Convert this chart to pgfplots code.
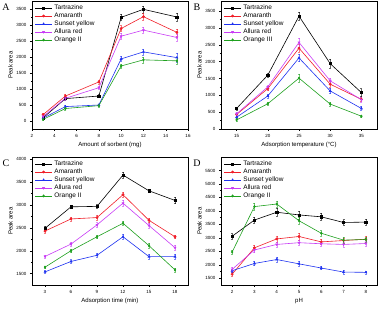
\documentclass[border=0pt]{standalone}
\usepackage{pgfplots}
\pgfplotsset{compat=1.18}
\usepackage{fontspec}
\setmainfont{Liberation Sans}
\newfontfamily\seriff{Liberation Serif}
\definecolor{cTz}{HTML}{000000}
\definecolor{cAm}{HTML}{F01E28}
\definecolor{cSy}{HTML}{1E32F0}
\definecolor{cAr}{HTML}{C83CF5}
\definecolor{cOg}{HTML}{1EA01E}
\pgfplotsset{
  tz/.style={color=cTz, mark=square*},
  am/.style={color=cAm, mark=*},
  sy/.style={color=cSy, mark=triangle*},
  ar/.style={color=cAr, mark=triangle*, every mark/.append style={rotate=180}},
  og/.style={color=cOg, mark=diamond*},
  panel/.style={
    scale only axis, width=156pt, height=128pt,
    axis line style={line width=0.5pt},
    tick align=outside, xtick pos=bottom, ytick pos=left,
    minor x tick num=1, minor y tick num=1,
    major tick length=2pt, minor tick length=1.2pt,
    every tick/.style={line width=0.4pt, black},
    /pgf/number format/assume math mode=true,
    /pgf/number format/set thousands separator={},
    scaled ticks=false,
    tick label style={font=\fontsize{4.5}{5}\selectfont},
    label style={font=\fontsize{6}{7}\selectfont},
    xlabel style={yshift=2pt},
    ylabel style={yshift=-3pt},
    ylabel={Peak area},
    legend style={draw=none, fill=none, at={(0.01,0.995)}, anchor=north west,
      font=\fontsize{6.5}{7}\selectfont, row sep=-2.2pt, inner sep=1pt},
    legend cell align=left,
    every axis plot/.append style={line width=0.6pt, mark size=1.1pt,
      error bars/y dir=both, error bars/y explicit,
      error bars/error bar style={line width=0.35pt, opacity=0.6},
      error bars/error mark options={rotate=90, mark size=1pt, line width=0.35pt}},
  }
}
\begin{document}
\begin{tikzpicture}
\useasboundingbox (0pt,0pt) rectangle (382pt,-312pt);
% ---------------- A
\begin{axis}[panel, at={(32pt,-1pt)}, anchor=north west,
  xmin=2, xmax=16, ymin=-250, ymax=3750,
  xtick={2,4,...,16}, ytick={0,500,...,3500},
  xlabel={Amount of sorbent (mg)}]
\addplot[tz] coordinates {(3,100)+-(0,40) (5,700)+-(0,50) (8,780)+-(0,50) (10,3240)+-(0,90) (12,3490)+-(0,110) (15,3250)+-(0,120)};
\addplot[am] coordinates {(3,200)+-(0,40) (5,780)+-(0,50) (8,1220)+-(0,60) (10,2890)+-(0,90) (12,3260)+-(0,110) (15,2770)+-(0,110)};
\addplot[sy] coordinates {(3,90)+-(0,40) (5,450)+-(0,40) (8,500)+-(0,40) (10,1940)+-(0,80) (12,2160)+-(0,100) (15,1980)+-(0,140)};
\addplot[ar] coordinates {(3,140)+-(0,40) (5,710)+-(0,50) (8,1040)+-(0,50) (10,2650)+-(0,90) (12,2840)+-(0,90) (15,2610)+-(0,110)};
\addplot[og] coordinates {(3,50)+-(0,40) (5,390)+-(0,40) (8,480)+-(0,40) (10,1720)+-(0,60) (12,1910)+-(0,90) (15,1880)+-(0,110)};
\legend{Tartrazine,Amaranth,Sunset yellow,Allura red,Orange~II}
\end{axis}
\node[font=\seriff\fontsize{10}{10}\selectfont, anchor=center] at (6pt,-7pt) {A};
% ---------------- B
\begin{axis}[panel, at={(221pt,-1pt)}, anchor=north west,
  xmin=12.5, xmax=37.5, ymin=0, ymax=3800,
  xtick={15,20,...,35}, ytick={0,500,...,3500},
  xlabel={Adsorption temperature (\textdegree C)}]
\addplot[tz] coordinates {(15,610)+-(0,40) (20,1600)+-(0,50) (25,3350)+-(0,120) (30,1940)+-(0,140) (35,1080)+-(0,120)};
\addplot[am] coordinates {(15,430)+-(0,40) (20,1200)+-(0,60) (25,2400)+-(0,110) (30,1330)+-(0,80) (35,880)+-(0,60)};
\addplot[sy] coordinates {(15,350)+-(0,40) (20,980)+-(0,60) (25,2110)+-(0,110) (30,1130)+-(0,80) (35,610)+-(0,60)};
\addplot[ar] coordinates {(15,450)+-(0,40) (20,1250)+-(0,60) (25,2570)+-(0,130) (30,1430)+-(0,80) (35,870)+-(0,60)};
\addplot[og] coordinates {(15,270)+-(0,40) (20,750)+-(0,50) (25,1510)+-(0,110) (30,740)+-(0,60) (35,380)+-(0,40)};
\legend{Tartrazine,Amaranth,Sunset yellow,Allura red,Orange~III}
\end{axis}
\node[font=\seriff\fontsize{10}{10}\selectfont, anchor=center] at (197pt,-7pt) {B};
% ---------------- C
\begin{axis}[panel, at={(32pt,-157pt)}, anchor=north west,
  xmin=1.5, xmax=19.5, ymin=1250, ymax=4050,
  xtick={3,6,...,18}, ytick={1500,2000,...,4000},
  xlabel={Adsorption time (min)}]
\addplot[tz] coordinates {(3,2490)+-(0,40) (6,2960)+-(0,40) (9,2970)+-(0,40) (12,3655)+-(0,60) (15,3310)+-(0,40) (18,3100)+-(0,70)};
\addplot[am] coordinates {(3,2430)+-(0,40) (6,2695)+-(0,40) (9,2725)+-(0,50) (12,3225)+-(0,60) (15,2665)+-(0,50) (18,2305)+-(0,40)};
\addplot[sy] coordinates {(3,1537)+-(0,30) (6,1765)+-(0,40) (9,1900)+-(0,40) (12,2305)+-(0,50) (15,1870)+-(0,50) (18,1870)+-(0,60)};
\addplot[ar] coordinates {(3,1875)+-(0,30) (6,2145)+-(0,40) (9,2565)+-(0,50) (12,3040)+-(0,60) (15,2550)+-(0,50) (18,2065)+-(0,50)};
\addplot[og] coordinates {(3,1640)+-(0,30) (6,2000)+-(0,40) (9,2305)+-(0,40) (12,2600)+-(0,40) (15,2110)+-(0,60) (18,1580)+-(0,40)};
\legend{Tartrazine,Amaranth,Sunset yellow,Allura red,Orange~II}
\end{axis}
\node[font=\seriff\fontsize{10}{10}\selectfont, anchor=center] at (6pt,-163pt) {C};
% ---------------- D
\begin{axis}[panel, at={(221pt,-157pt)}, anchor=north west,
  xmin=1.5, xmax=8.5, ymin=1250, ymax=6000,
  xtick={2,...,8}, ytick={1500,2000,...,5500},
  xlabel={pH}]
\addplot[tz] coordinates {(2,3060)+-(0,100) (3,3660)+-(0,120) (4,3950)+-(0,150) (5,3850)+-(0,150) (6,3780)+-(0,130) (7,3570)+-(0,110) (8,3585)+-(0,110)};
\addplot[am] coordinates {(2,1650)+-(0,80) (3,2630)+-(0,100) (4,2960)+-(0,120) (5,3050)+-(0,120) (6,2850)+-(0,100) (7,2900)+-(0,100) (8,2950)+-(0,100)};
\addplot[sy] coordinates {(2,1780)+-(0,70) (3,2050)+-(0,80) (4,2195)+-(0,80) (5,2035)+-(0,90) (6,1880)+-(0,60) (7,1730)+-(0,60) (8,1720)+-(0,60)};
\addplot[ar] coordinates {(2,1830)+-(0,80) (3,2550)+-(0,100) (4,2755)+-(0,100) (5,2820)+-(0,100) (6,2780)+-(0,90) (7,2755)+-(0,90) (8,2790)+-(0,100)};
\addplot[og] coordinates {(2,2475)+-(0,80) (3,4160)+-(0,120) (4,4255)+-(0,120) (5,3635)+-(0,120) (6,3170)+-(0,100) (7,2915)+-(0,100) (8,2940)+-(0,100)};
\legend{Tartrazine,Amaranth,Sunset yellow,Allura red,Orange~II}
\end{axis}
\node[font=\seriff\fontsize{10}{10}\selectfont, anchor=center] at (197pt,-163pt) {D};
\end{tikzpicture}
\end{document}
